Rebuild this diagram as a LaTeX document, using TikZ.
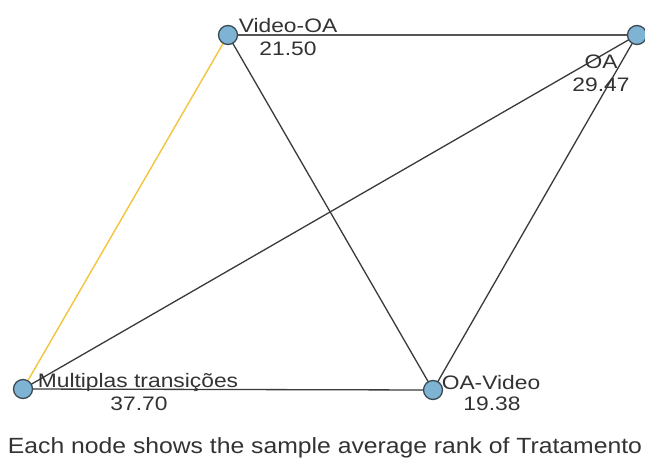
\documentclass[tikz,border=0pt]{standalone}
\usepackage{fontspec}
\setmainfont{Liberation Sans}
\usepackage{graphicx}
\definecolor{nodefill}{HTML}{7FB3D3}
\definecolor{nodeedge}{HTML}{3A4A55}
\definecolor{edgecol}{HTML}{3A3A3A}
\definecolor{topedge}{HTML}{555555}
\definecolor{yedge}{HTML}{F2C53D}
\definecolor{txt}{HTML}{333333}
\newcommand{\lab}[1]{\scalebox{1.17}[1]{#1}}
\tikzset{
  vtx/.style={circle,fill=nodefill,draw=nodeedge,line width=1.3pt,minimum size=19pt,inner sep=0pt},
  edge/.style={draw=edgecol,line width=1.3pt},
  lbl/.style={anchor=base,text=txt,inner sep=0pt,font=\fontsize{19.5}{19.5}\selectfont}
}
\begin{document}
\begin{tikzpicture}[x=1pt,y=-1pt]
\useasboundingbox (0,0) rectangle (645,461);
\fill[white] (0,0) rectangle (645,461);
\coordinate (pVO) at (228,35);
\coordinate (pOA) at (637,35);
\coordinate (pMT) at (23,389);
\coordinate (pOV) at (433,390);
% edges
\draw[draw=topedge,line width=1.6pt] (pVO) -- (pOA);
\draw[edge] (pVO) -- (pOV);
\draw[draw=yedge,line width=1.4pt] (pVO) -- (pMT);
\draw[edge] (pOA) -- (pMT);
\draw[edge] (pOA) -- (pOV);
\draw[edge] (pMT) -- (pOV);
% vertices
\node[vtx] (VO) at (pVO) {};
\node[vtx] (OA) at (pOA) {};
\node[vtx] (MT) at (pMT) {};
\node[vtx] (OV) at (pOV) {};
% labels
\node[lbl] (lVO) at (288,32) {\lab{Video-OA}};
\node[lbl] (vVO) at (288,55) {\lab{21.50}};
\node[lbl] (lOA) at (601,68) {\lab{OA}};
\node[lbl] (vOA) at (601,91) {\lab{29.47}};
\node[lbl] (lMT) at (138,387) {\lab{Multiplas transições}};
\node[lbl] (vMT) at (139,410) {\lab{37.70}};
\node[lbl] (lOV) at (491,389) {\lab{OA-Video}};
\node[lbl] (vOV) at (492,410) {\lab{19.38}};
% caption
\node[anchor=base,text=txt,inner sep=0pt] (cap) at (325,453)
  {\resizebox{634pt}{\height}{\fontsize{22}{22}\selectfont Each node shows the sample average rank of Tratamento}};
\end{tikzpicture}
\end{document}
